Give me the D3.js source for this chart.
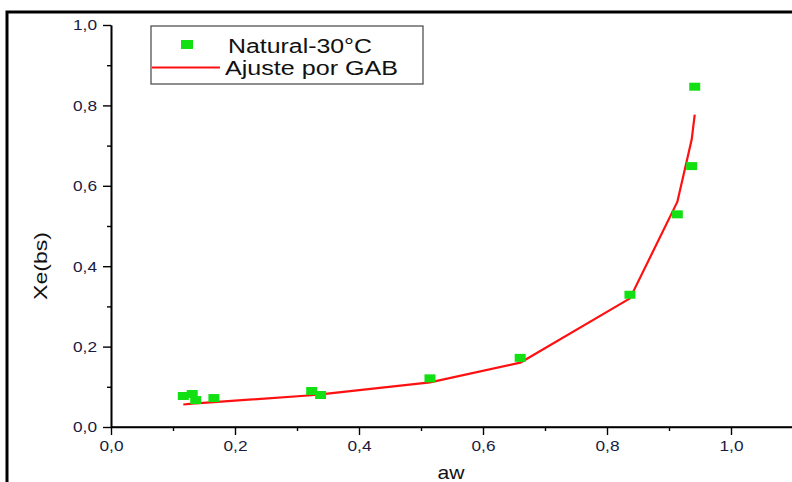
<!DOCTYPE html>
<html>
<head>
<meta charset="utf-8">
<script src="https://cdn.jsdelivr.net/npm/d3@7"></script>
<style>
  html, body { margin: 0; padding: 0; background: #fff; }
  svg { display: block; font-family: "Liberation Sans", Arial, sans-serif; }
</style>
</head>
<body>
<svg id="chart" width="792" height="482"></svg>
<script>
// Sorption isotherm, natural sample at 30 °C
const awData = [0.1166, 0.131, 0.1366, 0.166, 0.3237, 0.338, 0.5145, 0.660, 0.837, 0.9134, 0.9366, 0.9415];
const xeData = [0.0771, 0.082, 0.067, 0.072, 0.0896, 0.0796, 0.121, 0.172, 0.329, 0.529, 0.649, 0.8465];

// GAB fit evaluated at the measured water activities
const awFit = [0.1166, 0.131, 0.1366, 0.166, 0.3237, 0.338, 0.5145, 0.660, 0.837, 0.9134, 0.9366, 0.9415];
const xeFit = [0.056, 0.058, 0.059, 0.062, 0.079, 0.081, 0.111, 0.160, 0.320, 0.560, 0.715, 0.777];

const xTicks = [0, 0.2, 0.4, 0.6, 0.8, 1.0];
const yTicks = [0, 0.2, 0.4, 0.6, 0.8, 1.0];
const xMinor = [0.1, 0.3, 0.5, 0.7, 0.9, 1.1];
const yMinor = [0.1, 0.3, 0.5, 0.7, 0.9];

const legendLabels = ["Natural-30\u00B0C", "Ajuste por GAB"];
const xTitle = "aw";
const yTitle = "Xe(bs)";

const svg = d3.select("#chart");
const fmt = d => d3.format(".1f")(d).replace(".", ",");

const x = d3.scaleLinear().domain([0, 1.1]).range([111, 793]);
const y = d3.scaleLinear().domain([0, 1.0]).range([427, 25]);

// outer frame
svg.append("rect")
  .attr("x", 7).attr("y", 12).attr("width", 800).attr("height", 480)
  .attr("fill", "none").attr("stroke", "#000").attr("stroke-width", 3);

// axes
const xAxis = svg.append("g").attr("transform", `translate(0,${y(0)})`)
  .call(d3.axisBottom(x).tickValues(xTicks).tickFormat(fmt).tickSize(8).tickSizeOuter(0).tickPadding(5));
const xAxisMinor = svg.append("g").attr("transform", `translate(0,${y(0)})`)
  .call(d3.axisBottom(x).tickValues(xMinor).tickFormat("").tickSize(4).tickSizeOuter(0));
const yAxis = svg.append("g").attr("transform", `translate(${x(0)},0)`)
  .call(d3.axisLeft(y).tickValues(yTicks).tickFormat(fmt).tickSize(8).tickSizeOuter(0).tickPadding(6));
const yAxisMinor = svg.append("g").attr("transform", `translate(${x(0)},0)`)
  .call(d3.axisLeft(y).tickValues(yMinor).tickFormat("").tickSize(4).tickSizeOuter(0));

[xAxis, xAxisMinor, yAxis, yAxisMinor].forEach(g => {
  g.selectAll(".domain").attr("stroke", "#000").attr("stroke-width", 1.6);
  g.selectAll(".tick line").attr("stroke", "#000").attr("stroke-width", 1.4);
  g.selectAll("text").attr("font-size", 15).attr("fill", "#1a1a40")
    .attr("font-family", "'Liberation Sans', Arial, sans-serif")
    .attr("textLength", 24).attr("lengthAdjust", "spacingAndGlyphs");
});
// extend the x axis line out to the right edge
xAxis.select(".domain").attr("d", `M${x(0)},0H800`);

// axis titles
svg.append("text").attr("x", 451).attr("y", 479).attr("text-anchor", "middle")
  .attr("font-size", 19).attr("fill", "#111")
  .attr("textLength", 27).attr("lengthAdjust", "spacingAndGlyphs").text(xTitle);
svg.append("text").attr("transform", `translate(47,266) rotate(-90)`)
  .attr("text-anchor", "middle").attr("font-size", 19).attr("fill", "#111")
  .attr("textLength", 68).attr("lengthAdjust", "spacingAndGlyphs").text(yTitle);

// fitted curve
const line = d3.line().x((d, i) => x(awFit[i])).y(d => y(d));
svg.append("path").datum(xeFit)
  .attr("d", line).attr("fill", "none").attr("stroke", "#ff1010").attr("stroke-width", 2.2)
  .attr("stroke-linejoin", "round");

// measured points
const mw = 11, mh = 8;
svg.append("g").selectAll("rect").data(xeData).join("rect")
  .attr("x", (d, i) => x(awData[i]) - mw / 2)
  .attr("y", d => y(d) - mh / 2)
  .attr("width", mw).attr("height", mh)
  .attr("fill", "#12e012");

// legend
const lg = svg.append("g");
lg.append("rect").attr("x", 151).attr("y", 26).attr("width", 272).attr("height", 58)
  .attr("fill", "#fff").attr("stroke", "#444").attr("stroke-width", 1.2);
lg.append("rect").attr("x", 181).attr("y", 40).attr("width", 12).attr("height", 9).attr("fill", "#12e012");
lg.append("line").attr("x1", 152).attr("x2", 220).attr("y1", 67.5).attr("y2", 67.5)
  .attr("stroke", "#ff1010").attr("stroke-width", 2);
lg.append("text").attr("x", 228).attr("y", 53).attr("font-size", 20).attr("fill", "#111")
  .attr("textLength", 144).attr("lengthAdjust", "spacingAndGlyphs").text(legendLabels[0]);
lg.append("text").attr("x", 225).attr("y", 75).attr("font-size", 20).attr("fill", "#111")
  .attr("textLength", 173).attr("lengthAdjust", "spacingAndGlyphs").text(legendLabels[1]);
</script>
</body>
</html>
